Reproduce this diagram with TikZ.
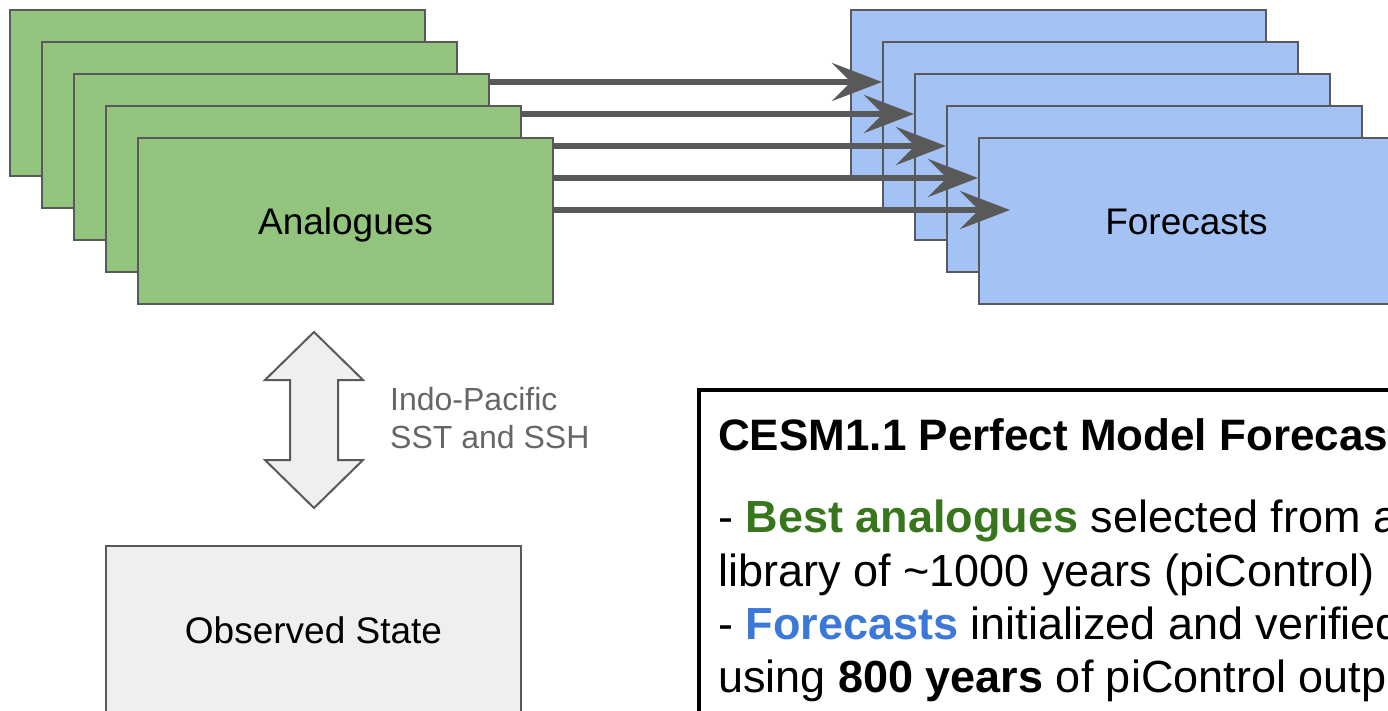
\documentclass[tikz,border=0pt]{standalone}
\usepackage{fontspec}
\setmainfont{Liberation Sans}
\usetikzlibrary{arrows.meta}
\definecolor{boxgreen}{HTML}{93C47D}
\definecolor{boxblue}{HTML}{A4C2F4}
\definecolor{boxgray}{HTML}{EFEFEF}
\definecolor{linegray}{HTML}{595959}
\definecolor{labelgray}{HTML}{666666}
\definecolor{bestgreen}{HTML}{38761D}
\definecolor{fcblue}{HTML}{3C78D8}
\pgfdeclarelayer{front}
\pgfsetlayers{main,front}
\tikzset{
  card/.style={draw=linegray, line width=2pt, minimum width=415pt, minimum height=166pt, inner sep=0pt, text height=28pt, text depth=0pt, font=\fontsize{37}{44}\selectfont},
  flow/.style={draw=linegray, line width=6.5pt, -{Stealth[length=50pt,width=38pt,inset=19pt]}},
  textline/.style={anchor=base west, inner sep=0pt, font=\fontsize{45}{52}\selectfont}
}
\begin{document}
\begin{tikzpicture}[x=1pt,y=-1pt]
          \useasboundingbox (0,0) rectangle (1388,711);
          \foreach \i/\txt in {0/,1/,2/,3/,4/Forecasts}
            \node[card, fill=boxblue] (b\i) at (1058.5+32*\i, 93+32*\i) {\txt};
          \begin{pgfonlayer}{front}
          \foreach \i/\txt in {0/,1/,2/,3/,4/Analogues}
            \node[card, fill=boxgreen] (g\i) at (217.5+32*\i, 93+32*\i) {\txt};
          \end{pgfonlayer}
          \foreach \i in {0,...,4}
            \draw [flow] ([yshift=11pt]g\i.east) -- ([xshift=32pt,yshift=11pt]b\i.west);

          \node[card, fill=boxgray] (obs) at (313.5,629) {Observed State};
          \draw [draw=linegray, line width=2pt, fill=boxgray] (314,332) -- (363,380) -- (338,380) -- (338,460) -- (363,460) -- (314,508)
            -- (265,460) -- (290,460) -- (290,380) -- (265,380) -- cycle;
          \node[anchor=west, align=left, text=labelgray, inner sep=0pt, font=\fontsize{32}{38}\selectfont] (sst) at (390,418) {Indo-Pacific\\SST and SSH};

          \node[draw, line width=4pt, anchor=north west, minimum width=800pt, minimum height=400pt, inner sep=0pt, outer sep=0pt] (panel) at (699,390) {};
          \node[textline, font=\bfseries\fontsize{44}{52}\selectfont] (title) at (718,450) {CESM1.1 Perfect Model Forecasts};
          \node[textline] (l1) at (718,532) {- \textcolor{bestgreen}{\bfseries Best analogues} selected from a};
          \node[textline] (l2) at (718,586) {library of \textasciitilde1000 years (piControl)};
          \node[textline] (l3) at (718,639) {- \textcolor{fcblue}{\bfseries Forecasts} initialized and verified};
          \node[textline] (l4) at (718,692) {using \textbf{800 years} of piControl output};
\end{tikzpicture}
\end{document}
